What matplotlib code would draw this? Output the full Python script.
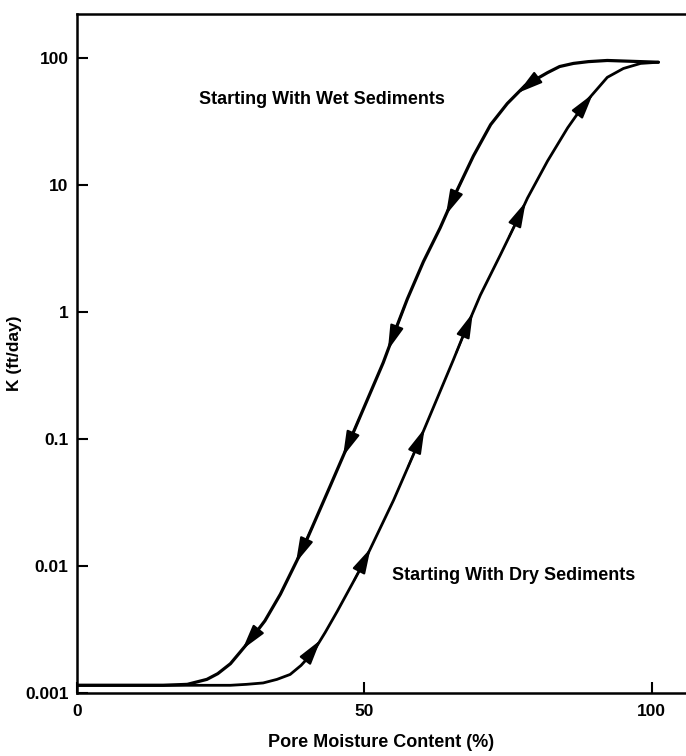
import numpy as np
import matplotlib
matplotlib.use("Agg")
import matplotlib.pyplot as plt

# -----------------------------------------
# Data (x = pore moisture %, y = K ft/day)
# -----------------------------------------
wet_x = [101.2, 92.3, 89.0, 86.4, 84.0, 81.9, 78.0, 74.9, 72.0, 69.0, 65.5, 63.2, 60.3,
         57.5, 55.4, 53.3, 47.6, 44.1, 39.4, 35.4, 32.7, 30.1, 28.4, 26.7, 24.5,
         22.6, 19.2, 15.0, 0.0]
wet_y = [93, 96, 94, 91, 86, 77, 61, 44, 30, 17, 7.9, 4.6, 2.5,
         1.27, 0.72, 0.40, 0.10, 0.043, 0.014, 0.006, 0.0037, 0.0026, 0.0021, 0.0017, 0.00142,
         0.00128, 0.00117, 0.00115, 0.00115]

dry_x = [101.2, 98.1, 95.1, 92.3, 88.5, 85.4, 81.9, 78.4, 76.8, 73.7, 70.2, 67.6, 65.5,
         59.2, 55.1, 49.8, 45.3, 43.2, 41.1, 39.0, 37.1, 34.8, 32.4, 29.5, 26.7, 0.0]
dry_y = [93, 91, 83, 70.7, 44.8, 28.3, 15.5, 7.9, 5.5, 2.83, 1.36, 0.72, 0.42,
         0.088, 0.033, 0.0104, 0.0044, 0.003, 0.0021, 0.00165, 0.0014, 0.00128, 0.0012, 0.00117,
         0.00115, 0.00115]

# where the direction arrows sit along each curve
wet_arrow_x = [78.0, 65.5, 55.4, 47.6, 39.4, 30.1]
dry_arrow_x = [88.5, 76.8, 67.6, 59.2, 49.8, 41.1]

x_ticks = [0, 50, 100]
x_tick_labels = ["0", "50", "100"]
y_ticks = [0.001, 0.01, 0.1, 1, 10, 100]
y_tick_labels = ["0.001", "0.01", "0.1", "1", "10", "100"]

plt.rcParams['font.family'] = ['Liberation Sans', 'DejaVu Sans']
plt.rcParams['font.weight'] = 'bold'


# Put filled arrowheads along a curve (direction +1 = toward larger x)
def addArrows(ax, xs, ys, where, direction):
    xs = np.array(xs, dtype=float)
    logy = np.log10(np.array(ys, dtype=float))
    order = np.argsort(xs)
    xs = xs[order]
    logy = logy[order]
    for xa in where:
        xTail = xa - direction * 1.6
        xTip = xa + direction * 1.3
        yTail = 10 ** np.interp(xTail, xs, logy)
        yTip = 10 ** np.interp(xTip, xs, logy)
        ax.annotate("", xy=(xTip, yTip), xytext=(xTail, yTail),
                    arrowprops=dict(arrowstyle="-|>,head_length=1.1,head_width=0.3",
                                    color="black", lw=1.5, mutation_scale=14,
                                    shrinkA=0, shrinkB=0))


fig = plt.figure(figsize=(6.86, 7.56), dpi=100)
ax = fig.add_axes([77 / 686, 63 / 756, 1 - 77 / 686, (693 - 14) / 756])

ax.plot(wet_x, wet_y, color="black", lw=2.3, solid_capstyle="round", solid_joinstyle="round")
ax.plot(dry_x, dry_y, color="black", lw=2.0, solid_capstyle="round", solid_joinstyle="round")
addArrows(ax, wet_x, wet_y, wet_arrow_x, -1)
addArrows(ax, dry_x, dry_y, dry_arrow_x, +1)

ax.set_yscale("log")
ax.set_xlim(0, 106)
ax.set_ylim(0.001, 223)
ax.set_xticks(x_ticks)
ax.set_xticklabels(x_tick_labels)
ax.set_yticks(y_ticks)
ax.set_yticklabels(y_tick_labels)
ax.minorticks_off()
ax.tick_params(axis="both", direction="in", length=8, width=1.5, labelsize=12.5)
ax.tick_params(axis="x", pad=8)
ax.tick_params(axis="y", pad=6)

for side in ["left", "bottom", "top"]:
    ax.spines[side].set_linewidth(1.8)
ax.spines["right"].set_visible(False)

ax.set_xlabel("Pore Moisture Content (%)", fontsize=13, fontweight="bold", labelpad=11)
ax.set_ylabel("K (ft/day)", fontsize=12.5, fontweight="bold", labelpad=2)

ax.text(42.7, 47, "Starting With Wet Sediments", fontsize=13, fontweight="bold",
        ha="center", va="center")
ax.text(76, 0.0085, "Starting With Dry Sediments", fontsize=13, fontweight="bold",
        ha="center", va="center")

fig.savefig("out.png", dpi=100)
